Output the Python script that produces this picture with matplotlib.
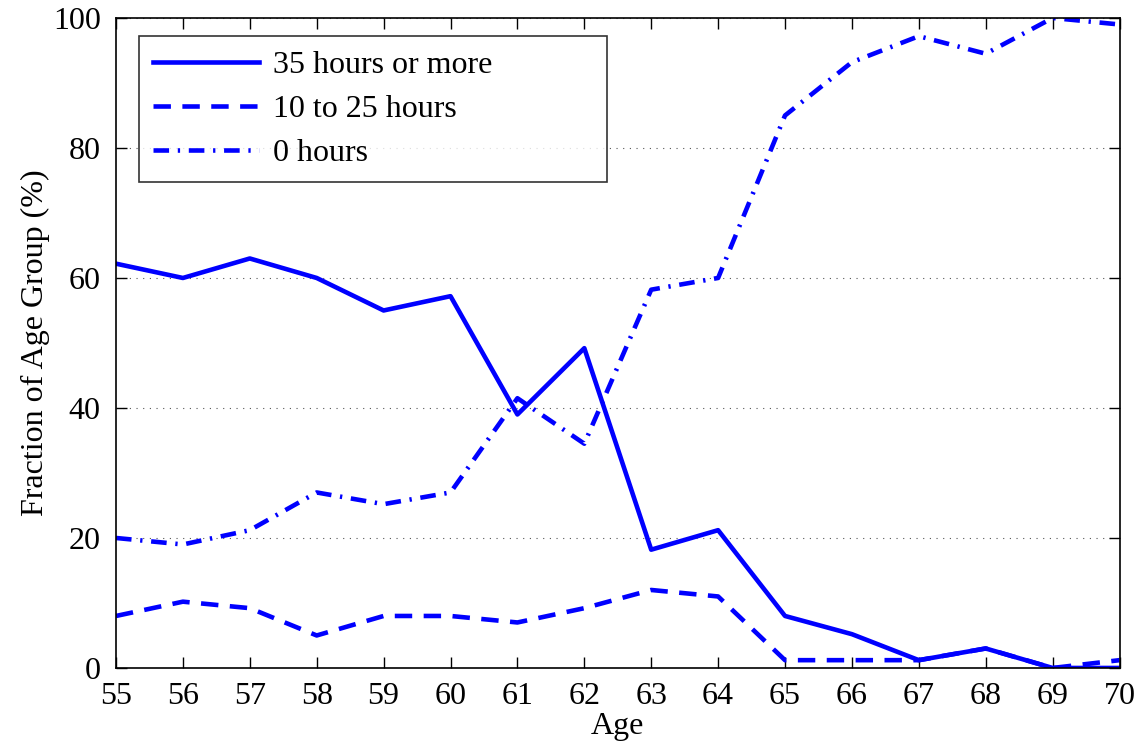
import matplotlib
matplotlib.use("Agg")
import matplotlib.pyplot as plt

ages = list(range(55, 71))
full_time = [62.2, 60, 63, 60, 55, 57.2, 39, 49.2, 18.2, 21.2, 8, 5.2, 1.2, 3, 0, 0]
part_time = [8, 10.2, 9.2, 5, 8, 8, 7, 9.2, 12, 11, 1.2, 1.2, 1.2, 3, 0, 1.2]
no_work = [20, 19, 21.2, 27, 25.2, 27, 41.5, 34.5, 58.2, 60, 85, 93.2, 97.2, 94.5, 100, 99]
labels = ["35 hours or more", "10 to 25 hours", "0 hours"]
xticks = list(range(55, 71))
yticks = [0, 20, 40, 60, 80, 100]

plt.rcParams['font.family'] = ['Liberation Serif', 'DejaVu Serif']
fig = plt.figure(figsize=(11.44, 7.46), dpi=100)
ax = fig.add_axes([0.1014, 0.1046, 0.9786 - 0.1014, 0.9759 - 0.1046])

lw = 3.3
ax.plot(ages, full_time, color='#0000ff', lw=lw, linestyle='-', label=labels[0])
ax.plot(ages, part_time, color='#0000ff', lw=lw, linestyle=(0, (3.8, 2.5)), label=labels[1])
ax.plot(ages, no_work, color='#0000ff', lw=lw, linestyle=(0, (3.4, 1.9, 0.5, 1.9)), label=labels[2])

ax.set_xlim(55, 70)
ax.set_ylim(0, 100)
ax.set_xticks(xticks)
ax.set_yticks(yticks)
ax.tick_params(direction='in', length=8, width=1, labelsize=23, top=True, right=True)
ax.tick_params(axis='x', pad=10)
ax.tick_params(axis='y', pad=11)
ax.yaxis.grid(True, linestyle=(0, (1, 5)), color='#555555', lw=0.8)
for s in ax.spines.values():
    s.set_linewidth(1.2)
ax.set_xlabel("Age", fontsize=23, labelpad=1)
ax.set_ylabel("Fraction of Age Group (%)", fontsize=23, labelpad=2)

leg = ax.legend(loc='upper left', bbox_to_anchor=(0.0229, 0.76, 0.4667, 0.212), mode='expand',
                fontsize=23, frameon=True, fancybox=False, edgecolor='black',
                handlelength=3.3, borderpad=0.45, labelspacing=0.46, handletextpad=0.45,
                borderaxespad=0)
leg.get_frame().set_linewidth(1.2)

fig.savefig("out.png", dpi=100)
